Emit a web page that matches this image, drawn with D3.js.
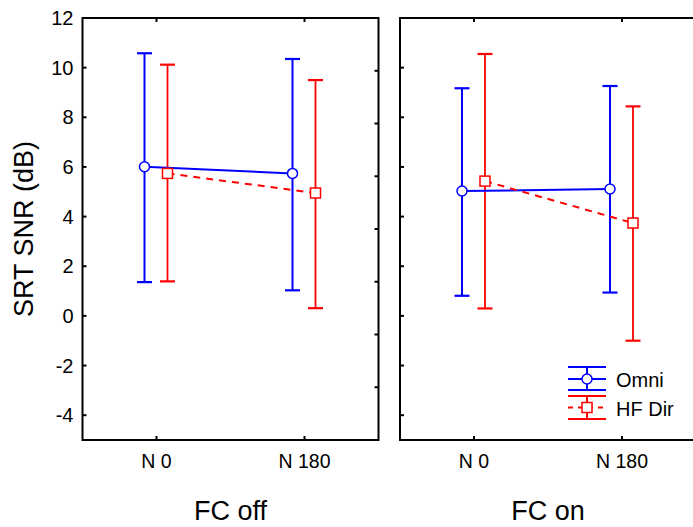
<!DOCTYPE html>
<html><head><meta charset="utf-8">
<script src="https://cdn.jsdelivr.net/npm/d3@7/dist/d3.min.js"></script>
<style>body{margin:0;background:#fff;} svg{display:block;} text{font-family:Arial,"Liberation Sans",sans-serif;}</style>
</head><body>
<script>
const categories = ["N 0", "N 180"];
const panels = ["FC off", "FC on"];
const series = ["Omni", "HF Dir"];
const yTicks = [-4, -2, 0, 2, 4, 6, 8, 10, 12];
// [panel][category]
const omniMean = [[6.01, 5.74], [5.03, 5.11]];
const omniLow  = [[1.36, 1.03], [0.81, 0.94]];
const omniHigh = [[10.58, 10.35], [9.17, 9.26]];
const hfMean = [[5.74, 4.95], [5.43, 3.74]];
const hfLow  = [[1.39, 0.31], [0.30, -1.00]];
const hfHigh = [[10.12, 9.50], [10.55, 8.44]];

const W = 693, H = 527;
const svg = d3.select("body").append("svg").attr("width", W).attr("height", H);

const topY = 18, bottomY = 440, pw = 296;
const panelLeft = [82.5, 400];
const y = d3.scaleLinear().domain([-5, 12]).range([bottomY, topY]);
const off = d3.scalePoint().domain(series).range([-12, 11]);
const colors = {"Omni": "#0000ff", "HF Dir": "#ff0000"};
const data = {
  "Omni": {mean: omniMean, low: omniLow, high: omniHigh},
  "HF Dir": {mean: hfMean, low: hfLow, high: hfHigh}
};
const capW = 15;

panels.forEach((pn, pi) => {
  const x0 = panelLeft[pi], x1 = x0 + pw;
  const x = d3.scalePoint().domain(categories).range([x0, x1]).padding(0.5);
  const g = svg.append("g");

  // frame
  g.append("rect").attr("x", x0).attr("y", topY).attr("width", pw).attr("height", bottomY - topY)
    .attr("fill", "none").attr("stroke", "#000").attr("stroke-width", 2);

  // left axis ticks (inward)
  g.selectAll(".lt").data(yTicks).join("line")
    .attr("x1", x0).attr("x2", x0 + 4).attr("y1", d => y(d)).attr("y2", d => y(d))
    .attr("stroke", "#000").attr("stroke-width", 2);
  if (pi === 0) {
    g.selectAll(".ll").data(yTicks).join("text")
      .attr("x", x0 - 9).attr("y", d => y(d) + 7).attr("text-anchor", "end")
      .attr("font-size", 20).text(d => d);
    // right axis secondary ticks
    const rs = d3.scaleLinear().domain([0, 8]).range([bottomY, topY]);
    g.selectAll(".rt").data(d3.range(1, 8)).join("line")
      .attr("x1", x1 - 4).attr("x2", x1).attr("y1", d => rs(d)).attr("y2", d => rs(d))
      .attr("stroke", "#000").attr("stroke-width", 2);
  }
  // top & bottom category ticks
  categories.forEach(c => {
    g.append("line").attr("x1", x(c)).attr("x2", x(c)).attr("y1", topY).attr("y2", topY + 4)
      .attr("stroke", "#000").attr("stroke-width", 2);
    g.append("line").attr("x1", x(c)).attr("x2", x(c)).attr("y1", bottomY).attr("y2", bottomY - 4)
      .attr("stroke", "#000").attr("stroke-width", 2);
    g.append("text").attr("x", x(c)).attr("y", 468).attr("text-anchor", "middle")
      .attr("font-size", 19.5).text(c);
  });
  g.append("text").attr("x", (x0 + x1) / 2).attr("y", 520).attr("text-anchor", "middle")
    .attr("font-size", 27).text(pn);

  // error bars
  series.slice().reverse().forEach(s => {
    const d = data[s], col = colors[s];
    categories.forEach((c, ci) => {
      const cx = x(c) + off(s);
      const sw = s === "Omni" ? 2 : 1.8;
      g.append("line").attr("x1", cx).attr("x2", cx)
        .attr("y1", y(d.low[pi][ci])).attr("y2", y(d.high[pi][ci]))
        .attr("stroke", col).attr("stroke-width", sw);
      [d.low[pi][ci], d.high[pi][ci]].forEach(v => {
        g.append("line").attr("x1", cx - capW / 2).attr("x2", cx + capW / 2)
          .attr("y1", y(v)).attr("y2", y(v)).attr("stroke", col).attr("stroke-width", 2.2);
      });
    });
  });
  // lines
  series.forEach(s => {
    const d = data[s];
    const line = d3.line().x((v, ci) => x(categories[ci]) + off(s)).y(v => y(v));
    g.append("path").attr("d", line(d.mean[pi])).attr("fill", "none")
      .attr("stroke", colors[s]).attr("stroke-width", 2)
      .attr("stroke-dasharray", s === "HF Dir" ? "7,6" : null);
  });
  // markers
  series.forEach(s => {
    const d = data[s];
    categories.forEach((c, ci) => {
      const cx = x(c) + off(s), cy = y(d.mean[pi][ci]);
      if (s === "Omni") {
        g.append("circle").attr("cx", cx).attr("cy", cy).attr("r", 5)
          .attr("fill", "#fff").attr("stroke", colors[s]).attr("stroke-width", 1.5);
      } else {
        g.append("rect").attr("x", cx - 5).attr("y", cy - 5).attr("width", 10).attr("height", 10)
          .attr("fill", "#fff").attr("stroke", colors[s]).attr("stroke-width", 1.5);
      }
    });
  });
});

// y label
svg.append("text").attr("transform", "translate(33,229) rotate(-90)")
  .attr("text-anchor", "middle").attr("font-size", 27).text("SRT SNR (dB)");

// legend
const lg = svg.append("g");
const lx0 = 568, lx1 = 606, lcx = 587;
const legRows = [{s: "Omni", y0: 367, ym: 379, y1: 390, ty: 387},
                 {s: "HF Dir", y0: 396, ym: 407.5, y1: 419, ty: 416}];
legRows.forEach(r => {
  const col = colors[r.s];
  lg.append("line").attr("x1", lcx).attr("x2", lcx).attr("y1", r.y0).attr("y2", r.y1)
    .attr("stroke", col).attr("stroke-width", 2);
  [r.y0, r.y1].forEach(yy => lg.append("line").attr("x1", lx0).attr("x2", lx1)
    .attr("y1", yy).attr("y2", yy).attr("stroke", col).attr("stroke-width", 2.2));
  lg.append("line").attr("x1", lx0).attr("x2", lx1).attr("y1", r.ym).attr("y2", r.ym)
    .attr("stroke", col).attr("stroke-width", 2)
    .attr("stroke-dasharray", r.s === "HF Dir" ? "5,5" : null);
  if (r.s === "Omni") {
    lg.append("circle").attr("cx", lcx).attr("cy", r.ym).attr("r", 5)
      .attr("fill", "#fff").attr("stroke", col).attr("stroke-width", 1.5);
  } else {
    lg.append("rect").attr("x", lcx - 5).attr("y", r.ym - 5).attr("width", 10).attr("height", 10)
      .attr("fill", "#fff").attr("stroke", col).attr("stroke-width", 1.5);
  }
  lg.append("text").attr("x", 616).attr("y", r.ty).attr("font-size", 20).text(r.s);
});
</script>
</body></html>
